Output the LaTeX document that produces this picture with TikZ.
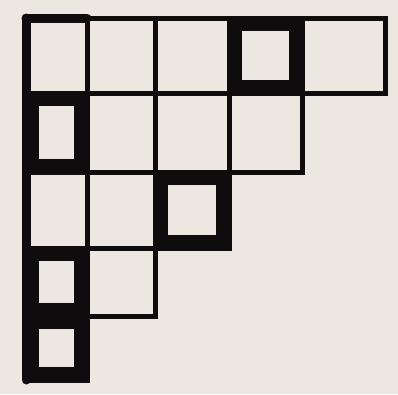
\documentclass[tikz,border=0pt]{standalone}
\usepackage{xcolor}
\usepackage{tikz}

\definecolor{paper}{RGB}{236,232,225}
\definecolor{ink}{RGB}{14,12,12}
\def\colx{{26,87,155,229,302,385}}
\def\rowy{{18,93,172,248,316,380}}

\begin{document}
\begin{tikzpicture}[
        x=1pt, y=-1pt,
        cell/.style={draw=ink, line width=5pt, inner sep=0pt, outer sep=0pt},
        marked/.style={draw=ink, line width=14pt, inner sep=0pt, outer sep=0pt},
        edge/.style={draw=ink, line width=9pt, line cap=round}
    ]
        \fill[paper] (0,0) rectangle (398,394);
        \useasboundingbox (0,0) rectangle (398,394);

        % the rows of the diagram: 5,4,3,2,1 cells
        \foreach \r/\n in {1/5,2/4,3/3,4/2,5/1}
            \foreach \c in {1,...,\n} {
                \pgfmathsetmacro\xa{\colx[\c-1]}
                \pgfmathsetmacro\xb{\colx[\c]}
                \pgfmathsetmacro\ya{\rowy[\r-1]}
                \pgfmathsetmacro\yb{\rowy[\r]}
                \node[cell, minimum width=\xb-\xa, minimum height=\yb-\ya] (c\r\c)
                    at ({(\xa+\xb)/2},{(\ya+\yb)/2}) {};
            }

        % heavy cells
        \foreach \r/\c in {1/4,2/1,3/3,4/1,5/1} {
            \pgfmathsetmacro\w{\colx[\c]-\colx[\c-1]-12}
            \pgfmathsetmacro\h{\rowy[\r]-\rowy[\r-1]-12}
            \node[marked, minimum width=\w, minimum height=\h] (m\r\c) at (c\r\c.center) {};
        }

        \draw[edge] (c11.north west) -- (c51.south west);
        \draw[edge] (c11.north west) -- (c11.north east);
    \end{tikzpicture}
\end{document}
